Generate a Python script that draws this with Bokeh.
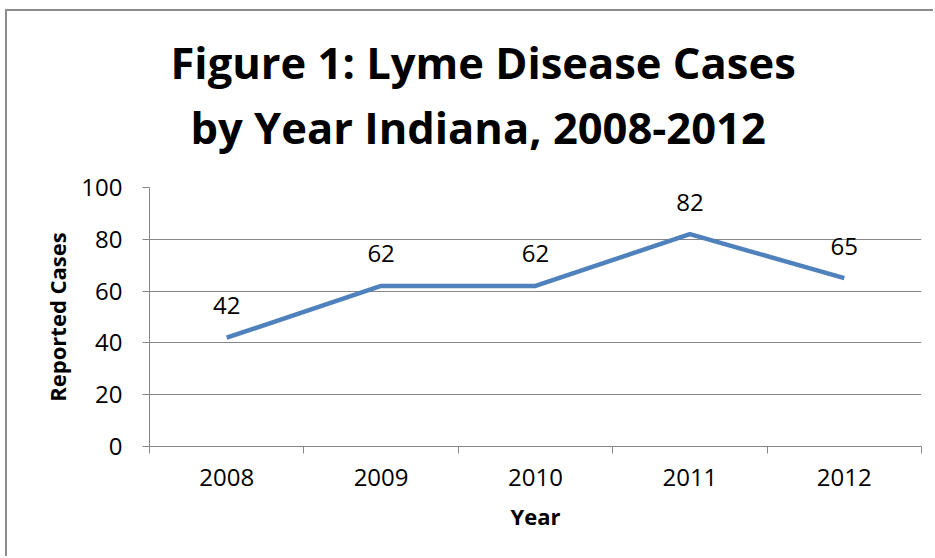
from bokeh.plotting import figure
from bokeh.models import ColumnDataSource, FixedTicker, Range1d, Title
from bokeh.core.properties import value
from bokeh.embed import file_html
from bokeh.resources import INLINE

years = ["2008", "2009", "2010", "2011", "2012"]
cases = [42, 62, 62, 82, 65]
y_ticks = [0, 20, 40, 60, 80, 100]

xpos = [i + 0.5 for i in range(len(years))]
src = ColumnDataSource(dict(x=xpos, y=cases, lbl=[str(c) for c in cases]))

FONT = "Open Sans"
TFONT = "Open Sans"

p = figure(width=928, height=547, output_backend="svg", toolbar_location=None,
           x_range=Range1d(0, len(years)), y_range=Range1d(0, 100),
           min_border_left=142, min_border_right=14, min_border_top=176, min_border_bottom=112)
p.styles = {"border-left": "2px solid #8c8c8c", "border-top": "2px solid #8c8c8c",
            "margin-left": "5px", "margin-top": "9px"}
p.outline_line_color = None
p.background_fill_color = "white"
p.border_fill_color = "white"

p.line("x", "y", source=src, line_color="#4F81BD", line_width=4.5)
p.text("x", "y", text="lbl", source=src, text_align="center", text_baseline="middle",
       y_offset=-32, text_font_size="24px", text_color="#000000", text_font=value(FONT))

# x axis
p.xaxis.ticker = FixedTicker(ticks=xpos, minor_ticks=list(range(len(years) + 1)))
p.xaxis.major_label_overrides = {x: y for x, y in zip(xpos, years)}
p.xaxis.major_tick_out = 0
p.xaxis.major_tick_in = 0
p.xaxis.minor_tick_out = 7
p.xaxis.minor_tick_in = 0
p.xaxis.minor_tick_line_color = "#868686"
p.xaxis.axis_line_color = "#868686"
p.xaxis.major_label_text_font = FONT
p.xaxis.major_label_text_font_size = "24px"
p.xaxis.major_label_text_color = "#000000"
p.xaxis.major_label_standoff = 15
p.xaxis.axis_label = "Year"
p.xaxis.axis_label_text_font = FONT
p.xaxis.axis_label_text_font_style = "bold"
p.xaxis.axis_label_text_font_size = "22px"
p.xaxis.axis_label_text_color = "#000000"
p.xaxis.axis_label_standoff = 12

# y axis
p.yaxis.ticker = FixedTicker(ticks=y_ticks)
p.yaxis.major_tick_out = 7
p.yaxis.major_tick_in = 0
p.yaxis.minor_tick_line_color = None
p.yaxis.major_tick_line_color = "#868686"
p.yaxis.axis_line_color = "#868686"
p.yaxis.major_label_text_font = FONT
p.yaxis.major_label_text_font_size = "24px"
p.yaxis.major_label_text_color = "#000000"
p.yaxis.major_label_standoff = 20
p.yaxis.axis_label = "Reported Cases"
p.yaxis.axis_label_text_font = FONT
p.yaxis.axis_label_text_font_style = "bold"
p.yaxis.axis_label_text_font_size = "22px"
p.yaxis.axis_label_text_color = "#000000"
p.yaxis.axis_label_standoff = 6

p.xgrid.grid_line_color = None
p.ygrid.grid_line_color = "#868686"
p.ygrid.ticker = FixedTicker(ticks=y_ticks)

t2 = Title(text="by Year Indiana, 2008-2012", align="left", text_font=TFONT,
           text_font_style="bold", text_font_size="43.5px", text_color="#000000",
           standoff=61, offset=41)
t1 = Title(text="Figure 1: Lyme Disease Cases", align="left", text_font=TFONT,
           text_font_style="bold", text_font_size="43.5px", text_color="#000000",
           standoff=-52, offset=21)
p.add_layout(t2, "above")
p.add_layout(t1, "above")

open("out.html", "w").write(file_html(p, INLINE))
